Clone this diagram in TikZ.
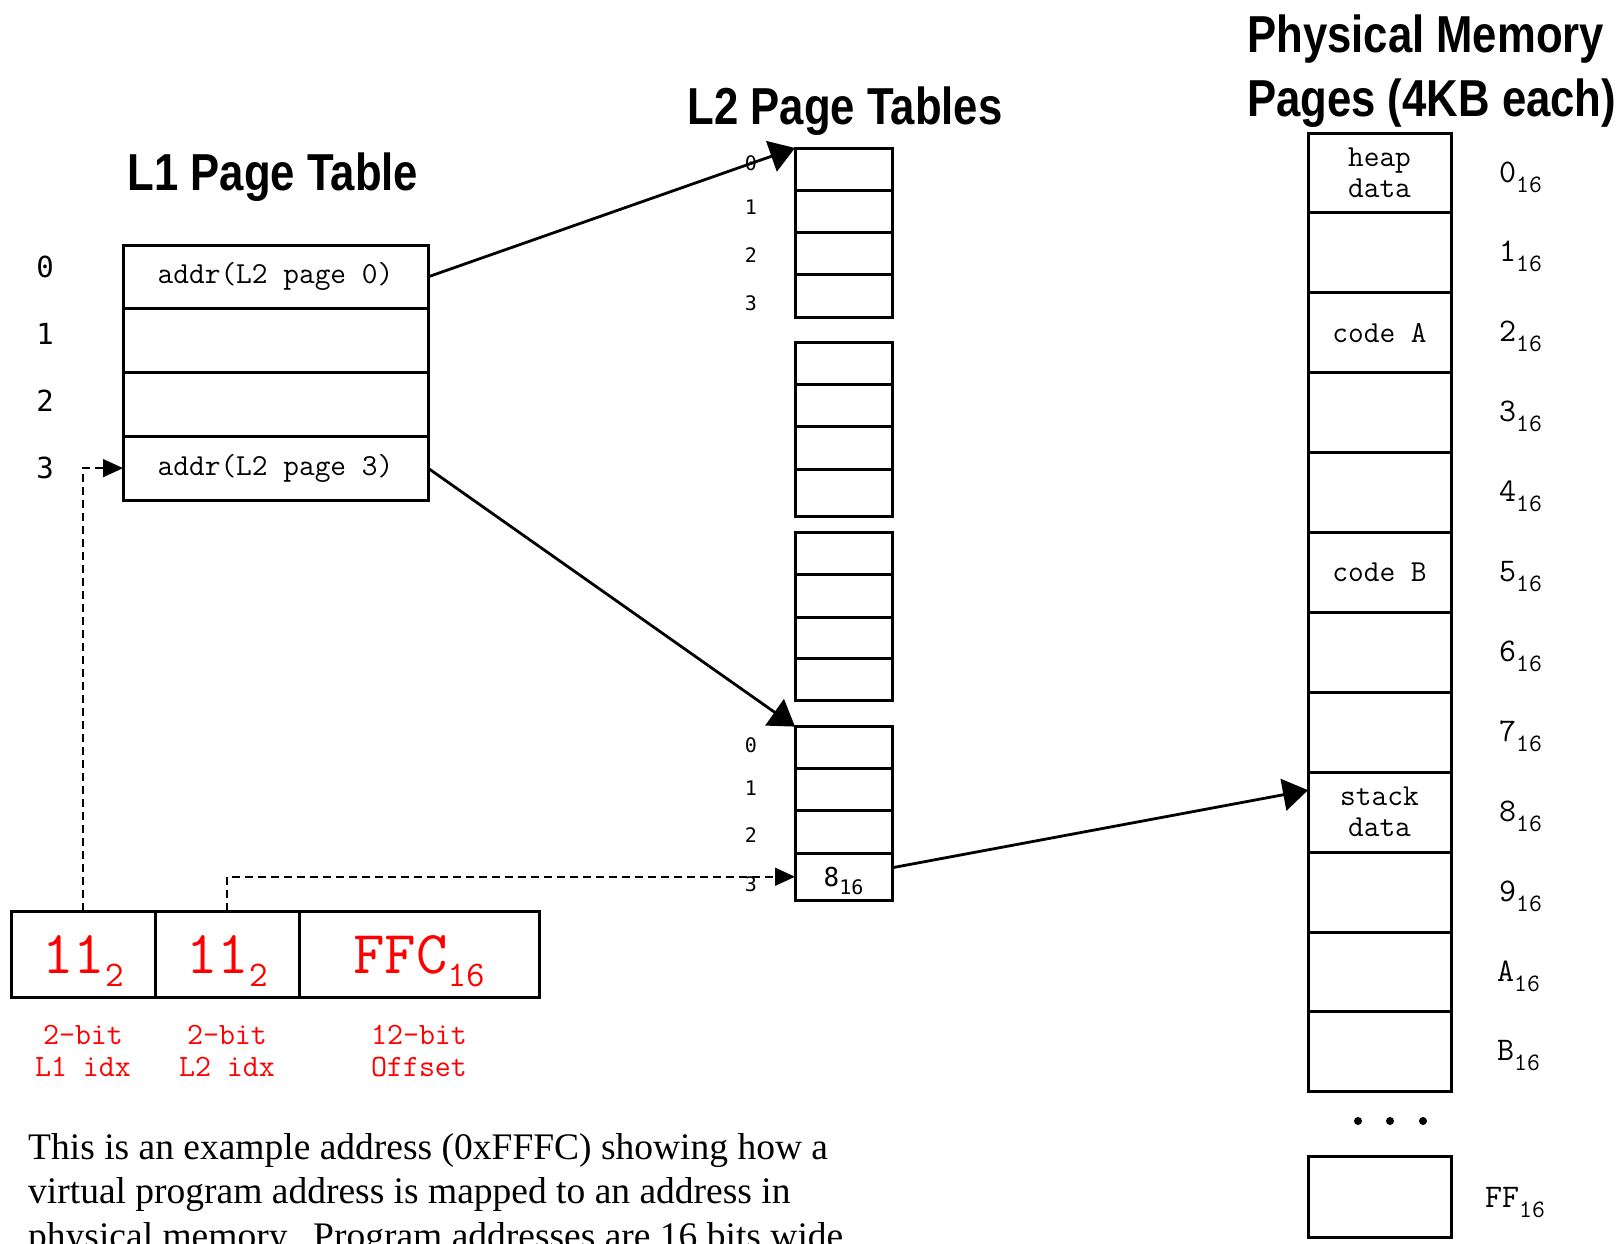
\documentclass[tikz,border=0pt]{standalone}
\usepackage{fontspec}
\setmainfont{Liberation Serif}
\newfontfamily\titlefont[FakeStretch=0.84]{Liberation Sans}
\newfontfamily\djm{DejaVu Sans Mono}
\usetikzlibrary{arrows.meta,calc}
\newcommand\lowsub[3]{\raisebox{-#1pt}{\fontsize{#2}{#2}\selectfont #3}}
\newcommand\boxcell[7]{%
  \pgfmathsetmacro\bcw{#5-#3}\pgfmathsetmacro\bch{#6-#4}%
  \pgfmathsetmacro\bcx{(#3+#5)/2}\pgfmathsetmacro\bcy{(#4+#6)/2}%
  \node[#1, minimum width=\bcw pt, minimum height=\bch pt] (#2) at (\bcx,\bcy) {#7};}
\begin{document}
\begin{tikzpicture}[x=1pt,y=-1pt,
  cell/.style={draw, line width=3pt, inner sep=0pt, outer sep=0pt, align=center,
    font=\ttfamily\fontsize{30.5}{31}\selectfont},
  redcell/.style={cell, text=red, text depth=0pt, font=\ttfamily\fontsize{61}{61}\selectfont},
  title/.style={font=\titlefont\bfseries\fontsize{52}{64}\selectfont, inner sep=0pt, anchor=base},
  lidx/.style={font=\djm\fontsize{29}{29}\selectfont, inner sep=0pt},
  sidx/.style={font=\djm\fontsize{20}{20}\selectfont, inner sep=0pt},
  plab/.style={font=\ttfamily\fontsize{33}{33}\selectfont, inner sep=0pt, anchor=base west},
  redlab/.style={font=\ttfamily\fontsize{31}{32}\selectfont, text=red, align=center, inner sep=0pt},
  bigarrow/.style={line width=2.8pt, -{Triangle[length=25pt,width=32pt]}},
  dasharrow/.style={line width=1.6pt, dash pattern=on 8pt off 5pt, -{Triangle[length=20pt,width=18pt]}}
]
\useasboundingbox (0,0) rectangle (1623,1243);
\clip (0,0) rectangle (1623,1243);

% titles
\node[title] (t1) at (273,190) {L1 Page Table};
\node[title] (t2) at (845,124) {L2 Page Tables};
\node[title, anchor=base west, align=left] (t3) at (1247,116) {Physical Memory\\Pages (4KB each)};

% L1 page table
\boxcell{cell}{L1a}{123}{245}{428}{308.75}{addr(L2 page 0)}
\boxcell{cell}{L1b}{123}{308.75}{428}{372.5}{}
\boxcell{cell}{L1c}{123}{372.5}{428}{436.25}{}
\boxcell{cell}{L1d}{123}{436.25}{428}{500}{addr(L2 page 3)}
\node[lidx] (i0) at (45,267) {0};
\node[lidx] (i1) at (45,334) {1};
\node[lidx] (i2) at (45,401) {2};
\node[lidx] (i3) at (45,468) {3};

% L2 tables
\boxcell{cell}{L2a0}{795}{148}{892}{190.3}{}
\boxcell{cell}{L2a1}{795}{190.3}{892}{232.5}{}
\boxcell{cell}{L2a2}{795}{232.5}{892}{274.8}{}
\boxcell{cell}{L2a3}{795}{274.8}{892}{317}{}
\node[sidx] (ja0) at (751,163.5) {0};
\node[sidx] (ja1) at (751,207) {1};
\node[sidx] (ja2) at (751,254.6) {2};
\node[sidx] (ja3) at (751,303) {3};

\boxcell{cell}{L2b0}{795}{342.6}{892}{384.5}{}
\boxcell{cell}{L2b1}{795}{384.5}{892}{426.5}{}
\boxcell{cell}{L2b2}{795}{426.5}{892}{469}{}
\boxcell{cell}{L2b3}{795}{469}{892}{516.5}{}

\boxcell{cell}{L2c0}{795}{532}{892}{574.4}{}
\boxcell{cell}{L2c1}{795}{574.4}{892}{617}{}
\boxcell{cell}{L2c2}{795}{617}{892}{658.5}{}
\boxcell{cell}{L2c3}{795}{658.5}{892}{700.7}{}

\boxcell{cell}{L2d0}{795}{726.6}{892}{768.2}{}
\boxcell{cell}{L2d1}{795}{768.2}{892}{810.5}{}
\boxcell{cell}{L2d2}{795}{810.5}{892}{853}{}
\boxcell{cell, text depth=0pt, font=\djm\fontsize{26}{26}\selectfont}{L2d3}{795}{853}{892}{900.5}{8\lowsub{8}{20}{16}}
\node[sidx] (jd0) at (751,745) {0};
\node[sidx] (jd1) at (751,788) {1};
\node[sidx] (jd2) at (751,835) {2};
\node[sidx] (jd3) at (751,884) {3};

% physical memory
\boxcell{cell}{P0}{1308}{133}{1451}{212.9}{heap\\data}
\boxcell{cell}{P1}{1308}{212.9}{1451}{292.8}{}
\boxcell{cell}{P2}{1308}{292.8}{1451}{372.7}{code A}
\boxcell{cell}{P3}{1308}{372.7}{1451}{452.6}{}
\boxcell{cell}{P4}{1308}{452.6}{1451}{532.5}{}
\boxcell{cell}{P5}{1308}{532.5}{1451}{612.4}{code B}
\boxcell{cell}{P6}{1308}{612.4}{1451}{692.3}{}
\boxcell{cell}{P7}{1308}{692.3}{1451}{772.2}{}
\boxcell{cell}{P8}{1308}{772.2}{1451}{852.1}{stack\\data}
\boxcell{cell}{P9}{1308}{852.1}{1451}{932}{}
\boxcell{cell}{PA}{1308}{932}{1451}{1011.9}{}
\boxcell{cell}{PB}{1308}{1011.9}{1451}{1091.8}{}
\boxcell{cell}{PFF}{1308}{1156}{1451}{1237}{}
\fill (1358,1121) circle (4pt) (1390,1121) circle (4pt) (1423,1121) circle (4pt);

\node[plab] (q0) at (1499,182) {0\lowsub{10}{25}{16}};
\node[plab] (q1) at (1499,261.9) {1\lowsub{10}{25}{16}};
\node[plab] (q2) at (1499,341.8) {2\lowsub{10}{25}{16}};
\node[plab] (q3) at (1499,421.7) {3\lowsub{10}{25}{16}};
\node[plab] (q4) at (1499,501.6) {4\lowsub{10}{25}{16}};
\node[plab] (q5) at (1499,581.5) {5\lowsub{10}{25}{16}};
\node[plab] (q6) at (1499,661.4) {6\lowsub{10}{25}{16}};
\node[plab] (q7) at (1499,741.3) {7\lowsub{10}{25}{16}};
\node[plab] (q8) at (1499,821.2) {8\lowsub{10}{25}{16}};
\node[plab] (q9) at (1499,901.1) {9\lowsub{10}{25}{16}};
\node[plab] (qA) at (1497,981) {A\lowsub{10}{25}{16}};
\node[plab] (qB) at (1497,1060.9) {B\lowsub{10}{25}{16}};
\node[plab] (qFF) at (1485,1207) {FF\lowsub{10}{25}{16}};

% address
\boxcell{redcell}{A1}{11}{911}{155}{997}{11\lowsub{13}{36}{2}}
\boxcell{redcell}{A2}{155}{911}{299}{997}{11\lowsub{13}{36}{2}}
\boxcell{redcell}{A3}{299}{911}{539}{997}{FFC\lowsub{13}{36}{16}}
\node[redlab] (r1) at (83,1051) {2-bit\\L1 idx};
\node[redlab] (r2) at (227,1051) {2-bit\\L2 idx};
\node[redlab] (r3) at (419,1051) {12-bit\\Offset};

% text
\node[anchor=base west, align=left, inner sep=0pt, font=\fontsize{37.5}{44.5}\selectfont] (txt) at (28,1248)
  {This is an example address (0xFFFC) showing how a\\virtual program address is mapped to an address in\\physical memory.\ \ Program addresses are 16 bits wide};

% connectors
\draw[bigarrow] (L1a.east) -- (L2a0.north west);
\draw[bigarrow] (L1d.east) -- (L2d0.north west);
\draw[bigarrow] ([yshift=9pt]L2d3.east) -- ([yshift=22pt]P8.west);
\draw[dasharrow] (A1.north) |- (L1d.west);
\draw[dasharrow] (A2.north) |- (L2d3.west);
\end{tikzpicture}
\end{document}
